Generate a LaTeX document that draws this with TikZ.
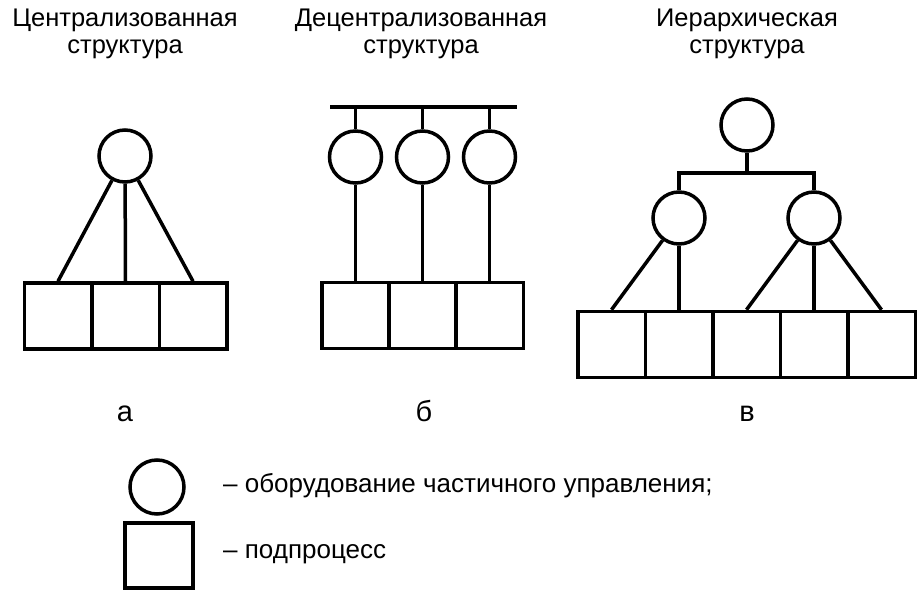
\documentclass[tikz,border=0pt]{standalone}
\usepackage{fontspec}
\setmainfont{Liberation Sans}
\begin{document}
\begin{tikzpicture}[x=1pt,y=-1pt,
  ln/.style={line width=3.5pt},
  unit/.style={draw,line width=3.5pt,circle,inner sep=0pt,minimum size=52pt},
  sub/.style={draw,line width=3.5pt,rectangle,inner sep=0pt,minimum width=67.5pt,minimum height=66pt},
  ttl/.style={align=center,anchor=base,inner sep=0pt,font=\fontsize{25.5}{27}\selectfont},
  lbl/.style={anchor=base,inner sep=0pt,font=\fontsize{29}{32}\selectfont},
  leg/.style={anchor=base west,inner sep=0pt,font=\fontsize{26}{28}\selectfont}]
\useasboundingbox[fill=white] (0,0) rectangle (922,594);

% titles
\node[ttl] (ta) at (125,54) {Централизованная\\структура};
\node[ttl] (tb) at (421,54) {Децентрализованная\\структура};
\node[ttl] (tc) at (747,54) {Иерархическая\\структура};

% (a) centralized
\node[unit] (ac) at (125,156) {};
\node[sub] (a1) at (58,316) {};
\node[sub] (a2) at (125.5,316) {};
\node[sub] (a3) at (193,316) {};
\draw[ln] (ac) -- (a1.north);
\draw[ln] (ac) -- (a2.north);
\draw[ln] (ac) -- (a3.north);

% (b) decentralized
\coordinate (bl) at (330,107);
\coordinate (br) at (517,107);
\draw[ln] (bl) -- (br);
\node[unit] (bc1) at (355.5,157) {};
\node[unit] (bc2) at (422.5,157) {};
\node[unit] (bc3) at (489.5,157) {};
\node[sub] (b1) at (355.5,315.5) {};
\node[sub] (b2) at (422.5,315.5) {};
\node[sub] (b3) at (489.5,315.5) {};
\foreach \i in {1,2,3}{
  \draw[ln] (bc\i.north) -- (bc\i.north |- bl);
  \draw[ln] (bc\i) -- (b\i.north);
}

% (c) hierarchical
\node[unit] (ct) at (747,125) {};
\node[unit] (cl) at (679,218) {};
\node[unit] (cr) at (814,218) {};
\coordinate (cj) at (747,173);
\draw[ln] (ct) -- (cj);
\draw[ln,line join=miter] (cl.north) |- (cj) -| (cr.north);
\node[sub] (c1) at (611.5,344.5) {};
\node[sub] (c2) at (679,344.5) {};
\node[sub] (c3) at (746.5,344.5) {};
\node[sub] (c4) at (814,344.5) {};
\node[sub] (c5) at (881.5,344.5) {};
\draw[ln] (cl) -- (c1.north);
\draw[ln] (cl) -- (c2.north);
\draw[ln] (cr) -- (c3.north);
\draw[ln] (cr) -- (c4.north);
\draw[ln] (cr) -- (c5.north);

% labels
\node[lbl] (la) at (125,421) {а};
\node[lbl] (lb) at (424,421) {б};
\node[lbl] (lc) at (747,421) {в};

% legend
\node[unit,minimum size=54pt] (gc) at (157,487) {};
\node[sub,minimum width=68pt,minimum height=65pt] (gs) at (159,555.5) {};
\node[leg] (gct) at (223,492) {– оборудование частичного управления;};
\node[leg] (gst) at (223,558) {– подпроцесс};
\end{tikzpicture}
\end{document}
